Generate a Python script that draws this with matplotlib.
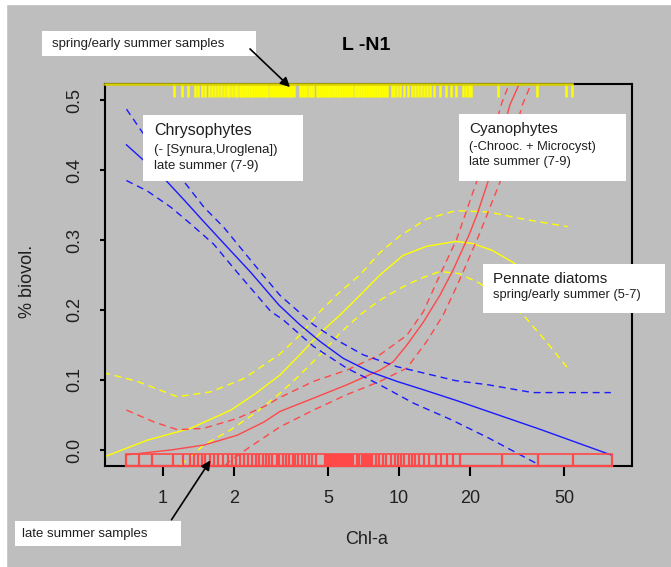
import matplotlib
matplotlib.use("Agg")
import matplotlib.pyplot as plt
from matplotlib.patches import Rectangle, FancyArrowPatch

plt.rcParams['font.family'] = ['Liberation Sans', 'DejaVu Sans']

# === Datos ===
# Chrysophytes (azul)
chry_x = [0.70, 1.03, 1.23, 1.49, 1.87, 2.35, 3.1, 3.8, 4.63, 5.8, 7.5, 9.8, 12.7, 17.4, 40, 79]
chry_y = [0.436, 0.385, 0.357, 0.326, 0.290, 0.254, 0.207, 0.179, 0.155, 0.131, 0.112, 0.098, 0.086, 0.071, 0.029, -0.007]
chry_hi_x = [0.70, 0.817, 1.0, 1.25, 1.49, 1.81, 2.59, 3.13, 4.34, 5.45, 7.05, 9.8, 12.7, 17.4, 24, 36.8, 79]
chry_hi_y = [0.487, 0.454, 0.415, 0.380, 0.347, 0.318, 0.254, 0.221, 0.179, 0.157, 0.136, 0.119, 0.110, 0.099, 0.093, 0.082, 0.082]
chry_lo_x = [0.70, 0.858, 1.078, 1.31, 1.64, 2.06, 2.86, 3.23, 4.34, 6.0, 8.3, 11.5, 16.7, 24, 38.1, 40]
chry_lo_y = [0.385, 0.370, 0.347, 0.323, 0.294, 0.254, 0.198, 0.186, 0.148, 0.117, 0.093, 0.067, 0.043, 0.017, -0.019, -0.024]

# Pennate diatoms (amarillo)
diat_x = [0.5, 0.567, 0.858, 1.31, 1.94, 2.43, 3.13, 3.8, 4.63, 5.63, 6.83, 8.3, 10.4, 13.1, 17.4, 20.5, 24.9, 30.4, 40, 53]
diat_y = [-0.015, -0.0095, 0.014, 0.031, 0.057, 0.079, 0.107, 0.136, 0.167, 0.193, 0.221, 0.250, 0.278, 0.291, 0.298, 0.295, 0.285, 0.268, 0.240, 0.200]
diat_hi_x = [0.5, 0.567, 0.778, 1.15, 1.59, 2.2, 3.13, 3.8, 4.63, 5.63, 6.83, 8.3, 10.1, 13.1, 17.4, 24, 33.4, 51.9]
diat_hi_y = [0.116, 0.110, 0.098, 0.076, 0.083, 0.102, 0.137, 0.164, 0.198, 0.226, 0.250, 0.282, 0.306, 0.330, 0.342, 0.340, 0.330, 0.319]
diat_lo_x = [1.1, 1.21, 1.49, 1.94, 2.51, 3.13, 3.8, 4.63, 5.63, 6.83, 8.3, 10.1, 12.3, 14.9, 18, 22, 33.6, 42, 52.7]
diat_lo_y = [-0.035, -0.019, 0.007, 0.029, 0.055, 0.081, 0.107, 0.136, 0.167, 0.193, 0.214, 0.231, 0.245, 0.255, 0.252, 0.238, 0.193, 0.155, 0.114]

# Cyanophytes (rojo)
cyan_x = [0.70, 1.08, 1.49, 2.06, 2.68, 3.13, 4.34, 6.0, 8.3, 9.45, 10.8, 12.7, 14.9, 17.0, 19.9, 21.5, 23.8, 26.5, 29.5, 32.3, 36]
cyan_y = [-0.007, 0.0, 0.007, 0.021, 0.040, 0.055, 0.074, 0.093, 0.114, 0.126, 0.150, 0.183, 0.221, 0.258, 0.309, 0.338, 0.383, 0.435, 0.493, 0.523, 0.58]
cyan_hi_x = [0.70, 0.916, 1.15, 1.49, 2.06, 2.68, 3.13, 4.34, 6.0, 8.3, 10.8, 12.7, 14.9, 17.5, 21.3, 24.5, 27.2, 29.3, 32]
cyan_hi_y = [0.057, 0.040, 0.029, 0.031, 0.045, 0.062, 0.075, 0.098, 0.114, 0.136, 0.164, 0.198, 0.250, 0.300, 0.383, 0.440, 0.495, 0.523, 0.57]
cyan_lo_x = [1.70, 1.87, 2.28, 3.13, 4.34, 6.0, 8.3, 10.8, 13.1, 15.4, 17.4, 19.0, 22, 26.8, 30, 33.4, 36.3, 40]
cyan_lo_y = [-0.035, -0.019, 0.002, 0.033, 0.057, 0.079, 0.098, 0.117, 0.155, 0.193, 0.231, 0.260, 0.310, 0.383, 0.440, 0.494, 0.523, 0.57]

# Muestras (rug)
late_x = [0.696, 0.788, 0.902, 1.104, 1.213, 1.305, 1.35, 1.406, 1.464, 1.509, 1.577, 1.642,
          1.715, 1.802, 1.891, 1.968, 2.042, 2.113, 2.207, 2.284, 2.375, 2.475, 2.56, 2.65,
          2.74, 2.81, 2.91, 3.03, 3.11, 3.22, 3.33, 3.42, 3.54, 3.64, 3.74, 3.87, 4.01, 4.14,
          4.28, 4.43, 4.85, 4.95, 5.05, 5.15, 5.25, 5.35, 5.45, 5.55, 5.65, 5.75, 5.85, 5.95,
          6.05, 6.15, 6.25, 6.41, 6.65, 6.8, 6.95, 7.1, 7.25, 7.4, 7.55, 7.7, 7.98, 8.25,
          8.54, 8.83, 9.28, 9.6, 9.93, 10.2, 10.5, 10.98, 11.37, 11.65, 12.17, 12.78, 13.44,
          14.37, 15.1, 15.9, 17.0, 18.2, 27.2, 38.7, 54.6, 80.1]
spring_x = [1.11, 1.20, 1.28, 1.36, 1.41, 1.46, 1.51, 1.56, 1.61, 1.66, 1.71, 1.76, 1.81,
            1.86, 1.91, 1.96, 2.01, 2.06, 2.11, 2.15, 2.19, 2.23, 2.27, 2.31, 2.35, 2.39,
            2.43, 2.47, 2.52, 2.57, 2.62, 2.67, 2.72, 2.77, 2.83, 2.89, 2.95, 3.01, 3.07,
            3.13, 3.19, 3.25, 3.31, 3.38, 3.45, 3.52, 3.59, 3.80, 3.88, 3.96, 4.05, 4.14,
            4.23, 4.32, 4.48, 4.56, 4.64, 4.72, 4.80, 4.89, 4.98, 5.07, 5.16, 5.25, 5.35,
            5.45, 5.55, 5.65, 5.75, 5.86, 5.97, 6.08, 6.19, 6.30, 6.53, 6.65, 6.77, 6.89,
            7.01, 7.13, 7.26, 7.39, 7.52, 7.65, 7.78, 7.92, 8.06, 8.20, 8.34, 8.48, 8.62,
            8.77, 8.92, 9.30, 9.55, 9.80, 10.1, 10.5, 10.96, 11.3, 11.7, 12.0, 12.4, 12.8,
            13.1, 13.5, 14.1, 14.9, 15.8, 16.6, 17.5, 18.6, 19.2, 19.8, 20.2, 26.2, 38.4,
            50.9, 54.0]

xticks = [1, 2, 5, 10, 20, 50]
yticks = [0.0, 0.1, 0.2, 0.3, 0.4, 0.5]

# === Colores / estilo ===
GRIS = '#bebebe'
AZUL = '#1a1aff'
AMARILLO = '#ffff00'
ROJO = '#ff4848'
DASH = (0, (5, 3.5))
LW = 1.0

W, H = 671, 567


def fx(px):
    return px / W


def fy(py):
    return 1 - py / H


fig = plt.figure(figsize=(W / 100, H / 100), dpi=100)
fig.patch.set_facecolor(GRIS)
fig.add_artist(Rectangle((0, 0), fx(6), 1, transform=fig.transFigure, color='white', zorder=-1))
fig.add_artist(Rectangle((0, fy(4)), 1, 1 - fy(4), transform=fig.transFigure, color='white', zorder=-1))

ax = fig.add_axes([fx(105), fy(466), fx(632) - fx(105), fy(84) - fy(466)])
ax.set_facecolor(GRIS)
ax.set_xscale('log')
ax.set_xlim(0.5678, 97.1)
ax.set_ylim(-0.0229, 0.5229)

# curvas
ax.plot(diat_x, diat_y, color=AMARILLO, lw=LW)
ax.plot(diat_hi_x, diat_hi_y, color=AMARILLO, lw=LW, linestyle=DASH)
ax.plot(diat_lo_x, diat_lo_y, color=AMARILLO, lw=LW, linestyle=DASH)
ax.plot(cyan_x, cyan_y, color=ROJO, lw=LW)
ax.plot(cyan_hi_x, cyan_hi_y, color=ROJO, lw=LW, linestyle=DASH)
ax.plot(cyan_lo_x, cyan_lo_y, color=ROJO, lw=LW, linestyle=DASH)
ax.plot(chry_x, chry_y, color=AZUL, lw=LW)
ax.plot(chry_hi_x, chry_hi_y, color=AZUL, lw=LW, linestyle=DASH)
ax.plot(chry_lo_x, chry_lo_y, color=AZUL, lw=LW, linestyle=DASH)

# rugs
tr = ax.get_xaxis_transform()
ax.vlines(late_x, 0, 0.031, transform=tr, colors=ROJO, lw=1.6, clip_on=False, zorder=3)
ax.plot([min(late_x), max(late_x)], [0.031, 0.031], transform=tr, color=ROJO, lw=1.2, zorder=3)
ax.plot([min(late_x), max(late_x)], [0, 0], transform=tr, color=ROJO, lw=1.6, clip_on=False, zorder=4)
ax.vlines(spring_x, 0.966, 1, transform=tr, colors=AMARILLO, lw=1.8, clip_on=False, zorder=3)
ax.plot([0.5678, max(spring_x)], [1, 1], transform=tr, color='#d8d000', lw=1.8, clip_on=False, zorder=4)

# ejes
for s in ax.spines.values():
    s.set_linewidth(1.5)
    s.set_color('black')
ax.set_xticks(xticks)
ax.set_xticklabels([str(t) for t in xticks])
ax.xaxis.set_minor_locator(matplotlib.ticker.NullLocator())
ax.set_yticks(yticks)
ax.set_yticklabels([f"{t:.1f}" for t in yticks])
ax.tick_params(axis='x', length=7, width=1.5, labelsize=13, pad=10, colors='black', labelcolor='#202020')
ax.tick_params(axis='y', length=3.5, width=1.5, labelsize=13, pad=12, labelrotation=90, labelcolor='#202020')
for lab in ax.get_yticklabels():
    lab.set_va('center')

# textos
fig.text(fx(366), fy(46), 'L -N1', fontsize=14, fontweight='bold', ha='center', va='center')
fig.text(fx(367), fy(540), 'Chl-a', fontsize=13, ha='center', va='center', color='#202020')
fig.text(fx(27), fy(281), '% biovol.', fontsize=13, ha='center', va='center', rotation=90, color='#202020')


def caja(x0, y0, x1, y1, lineas):
    fig.add_artist(Rectangle((fx(x0), fy(y1)), fx(x1) - fx(x0), fy(y0) - fy(y1),
                             transform=fig.transFigure, facecolor='white', edgecolor='none', zorder=5))
    for px, py, txt, size in lineas:
        fig.text(fx(px), fy(py), txt, fontsize=size, ha='left', va='center', zorder=6, color='#202020')


caja(42, 31, 256, 56, [(52, 44, 'spring/early summer samples', 9.5)])
caja(15, 521, 181, 546, [(22, 534, 'late summer samples', 9.5)])
caja(143, 115, 303, 181, [(154, 131, 'Chrysophytes', 11.5),
                          (154, 150, '(- [Synura,Uroglena])', 9.5),
                          (154, 166, 'late summer (7-9)', 9.5)])
caja(459, 114, 626, 181, [(469, 129, 'Cyanophytes', 11),
                          (469, 147, '(-Chrooc. + Microcyst)', 9.3),
                          (469, 162, 'late summer (7-9)', 9.3)])
caja(483, 264, 665, 313, [(493, 279, 'Pennate diatoms', 11),
                          (493, 295, 'spring/early summer (5-7)', 9.3)])

for a, b in [((248, 47), (292, 89)), ((170, 522), (212, 458))]:
    fig.add_artist(FancyArrowPatch((fx(a[0]), fy(a[1])), (fx(b[0]), fy(b[1])),
                                   transform=fig.transFigure, arrowstyle='-|>',
                                   mutation_scale=14, color='black', lw=1.2, zorder=7))

fig.savefig('out.png', dpi=100, facecolor=fig.get_facecolor())
